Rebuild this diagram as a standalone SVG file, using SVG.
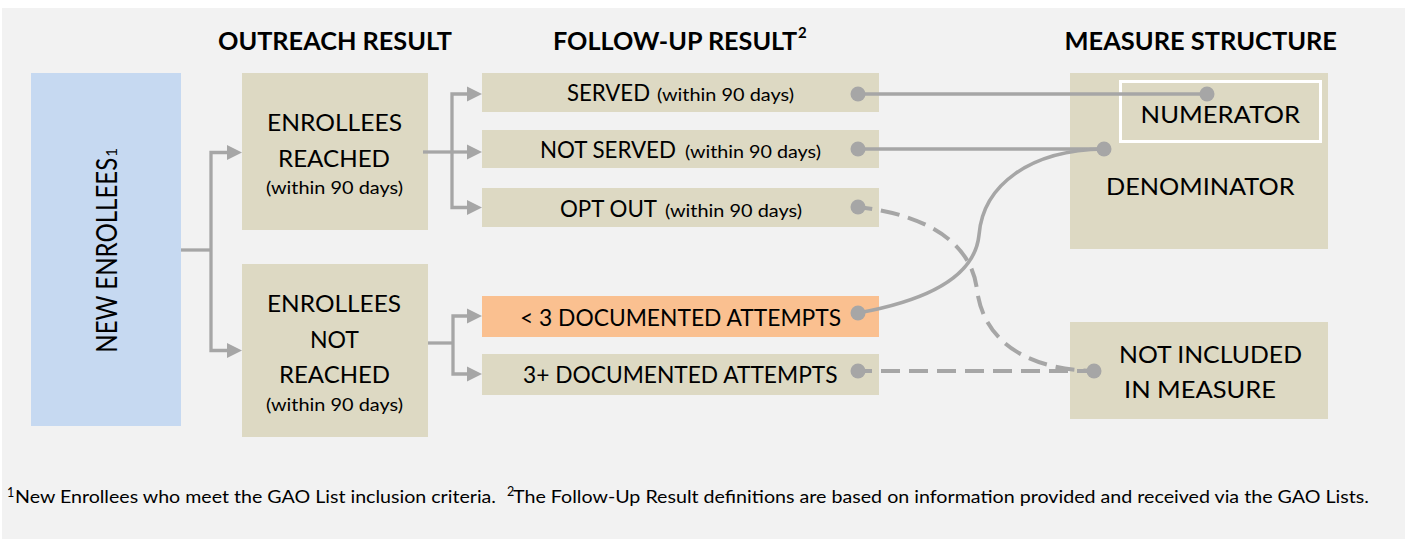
<svg xmlns="http://www.w3.org/2000/svg" width="1405" height="539" viewBox="0 0 1405 539">
<style>
text{font-family:Lato,"Liberation Sans",sans-serif;fill:#000}
.h{font-size:24px;font-weight:bold}
.b{font-size:24px}
.s{font-size:18px}
.tan{fill:#ddd9c3}
.conn{stroke:#a6a6a6;fill:none;stroke-width:3.3}
.dash{stroke:#a6a6a6;fill:none;stroke-width:4;stroke-dasharray:19 9}
.dot{fill:#a6a6a6}
</style>
<defs>
<marker id="arr" markerUnits="userSpaceOnUse" markerWidth="16" markerHeight="16" viewBox="0 0 16 16" refX="0" refY="8" orient="auto">
<path d="M0,0.5 L15,8 L0,15.5 Z" fill="#a6a6a6"/>
</marker>
</defs>
<rect x="0" y="0" width="1405" height="539" fill="#ffffff"/>
<rect x="2" y="8" width="1403" height="531" fill="#f2f2f2"/>

<g id="headers">
<text class="h" x="218" y="50" textLength="234" lengthAdjust="spacingAndGlyphs">OUTREACH RESULT</text>
<text class="h" x="553" y="50" textLength="244" lengthAdjust="spacingAndGlyphs">FOLLOW-UP RESULT</text>
<text x="798" y="38" style="font-size:15px;font-weight:bold">2</text>
<text class="h" x="1064.5" y="50" textLength="272.5" lengthAdjust="spacingAndGlyphs">MEASURE STRUCTURE</text>
</g>

<g id="new-enrollees">
<rect x="31" y="73" width="150" height="353" fill="#c6d9f1"/>
<g transform="translate(117,352.7) rotate(-90)">
<text x="0" y="0" style="font-size:29px" textLength="195" lengthAdjust="spacingAndGlyphs">NEW ENROLLEES</text>
<text x="196" y="0" style="font-size:15px">1</text>
</g>
</g>

<g id="enrollees-reached">
<rect class="tan" x="242" y="73" width="186" height="157"/>
<text class="b" x="267" y="131" textLength="135" lengthAdjust="spacingAndGlyphs">ENROLLEES</text>
<text class="b" x="278" y="167" textLength="112" lengthAdjust="spacingAndGlyphs">REACHED</text>
<text class="s" x="266" y="194" textLength="137" lengthAdjust="spacingAndGlyphs">(within 90 days)</text>
</g>

<g id="enrollees-not-reached">
<rect class="tan" x="242" y="264" width="186" height="173"/>
<text class="b" x="267" y="312" textLength="134" lengthAdjust="spacingAndGlyphs">ENROLLEES</text>
<text class="b" x="310" y="348" textLength="49" lengthAdjust="spacingAndGlyphs">NOT</text>
<text class="b" x="279" y="383" textLength="111" lengthAdjust="spacingAndGlyphs">REACHED</text>
<text class="s" x="266" y="411" textLength="137" lengthAdjust="spacingAndGlyphs">(within 90 days)</text>
</g>

<g id="served">
<rect class="tan" x="482" y="73" width="397" height="39"/>
<text class="b" x="567" y="101" textLength="83" lengthAdjust="spacingAndGlyphs">SERVED</text>
<text class="s" x="657" y="101" textLength="137" lengthAdjust="spacingAndGlyphs">(within 90 days)</text>
</g>

<g id="not-served">
<rect class="tan" x="482" y="130" width="397" height="38"/>
<text class="b" x="540" y="158" textLength="136" lengthAdjust="spacingAndGlyphs">NOT SERVED</text>
<text class="s" x="685" y="158" textLength="136" lengthAdjust="spacingAndGlyphs">(within 90 days)</text>
</g>

<g id="opt-out">
<rect class="tan" x="482" y="188" width="397" height="39"/>
<text class="b" x="560" y="217" textLength="97" lengthAdjust="spacingAndGlyphs">OPT OUT</text>
<text class="s" x="665" y="217" textLength="137" lengthAdjust="spacingAndGlyphs">(within 90 days)</text>
</g>

<g id="lt3-attempts">
<rect x="482" y="296" width="397" height="41" fill="#fac090"/>
<text class="b" x="520" y="326" textLength="321" lengthAdjust="spacingAndGlyphs">&lt; 3 DOCUMENTED ATTEMPTS</text>
</g>

<g id="3plus-attempts">
<rect class="tan" x="482" y="354" width="397" height="41"/>
<text class="b" x="523" y="383" textLength="314.5" lengthAdjust="spacingAndGlyphs">3+ DOCUMENTED ATTEMPTS</text>
</g>

<g id="measure">
<rect class="tan" x="1070" y="73" width="258" height="176"/>
<rect class="tan" x="1120.5" y="81.5" width="200" height="60" stroke="#ffffff" stroke-width="3"/>
<text class="b" x="1140.6" y="123" textLength="159.4" lengthAdjust="spacingAndGlyphs">NUMERATOR</text>
<text class="b" x="1106" y="195" textLength="188.5" lengthAdjust="spacingAndGlyphs">DENOMINATOR</text>
</g>

<g id="not-included">
<rect class="tan" x="1070" y="322" width="258" height="97"/>
<text class="b" x="1119" y="363" textLength="183" lengthAdjust="spacingAndGlyphs">NOT INCLUDED</text>
<text class="b" x="1124" y="398" textLength="152" lengthAdjust="spacingAndGlyphs">IN MEASURE</text>
</g>

<g id="connectors">
<path class="conn" d="M181,250 H211"/>
<path class="conn" d="M211,250 V152.5 H227" marker-end="url(#arr)"/>
<path class="conn" d="M211,250 V350.5 H227" marker-end="url(#arr)"/>
<path class="conn" d="M423,152 H452"/>
<path class="conn" d="M452,152 V94 H467" marker-end="url(#arr)"/>
<path class="conn" d="M452,152 H467" marker-end="url(#arr)"/>
<path class="conn" d="M452,152 V207.5 H467" marker-end="url(#arr)"/>
<path class="conn" d="M428,343 H453"/>
<path class="conn" d="M453,343 V316 H467" marker-end="url(#arr)"/>
<path class="conn" d="M453,343 V374 H467" marker-end="url(#arr)"/>
<path class="conn" d="M858,94 H1207"/>
<path class="conn" d="M858,149 H1104"/>
<path class="conn" style="stroke-width:3.6" d="M858,313 C930,300 975,275 979,235 C983,185 1030,150 1104,149"/>
<path class="dash" style="stroke-dashoffset:5" d="M858,207 C930,215 972,245 977,290 C985,350 1040,370 1094,371"/>
<path class="dash" style="stroke-dashoffset:5" d="M858,371 H1094"/>
<circle class="dot" cx="858" cy="94" r="7.5"/>
<circle class="dot" cx="858" cy="149" r="7.5"/>
<circle class="dot" cx="858" cy="207" r="7.5"/>
<circle class="dot" cx="858" cy="313" r="7.5"/>
<circle class="dot" cx="858" cy="371" r="7.5"/>
<circle class="dot" cx="1207" cy="94" r="7.5"/>
<circle class="dot" cx="1104" cy="149" r="7.5"/>
<circle class="dot" cx="1094" cy="371" r="7.5"/>
</g>

<g id="footnotes">
<text x="7" y="497" style="font-size:12.5px">1</text>
<text x="15" y="503" style="font-size:17.5px" textLength="481" lengthAdjust="spacingAndGlyphs">New Enrollees who meet the GAO List inclusion criteria.</text>
<text x="507" y="496" style="font-size:12.5px">2</text>
<text x="513" y="503" style="font-size:17.5px" textLength="856" lengthAdjust="spacingAndGlyphs">The Follow-Up Result definitions are based on information provided and received via the GAO Lists.</text>
</g>
</svg>
